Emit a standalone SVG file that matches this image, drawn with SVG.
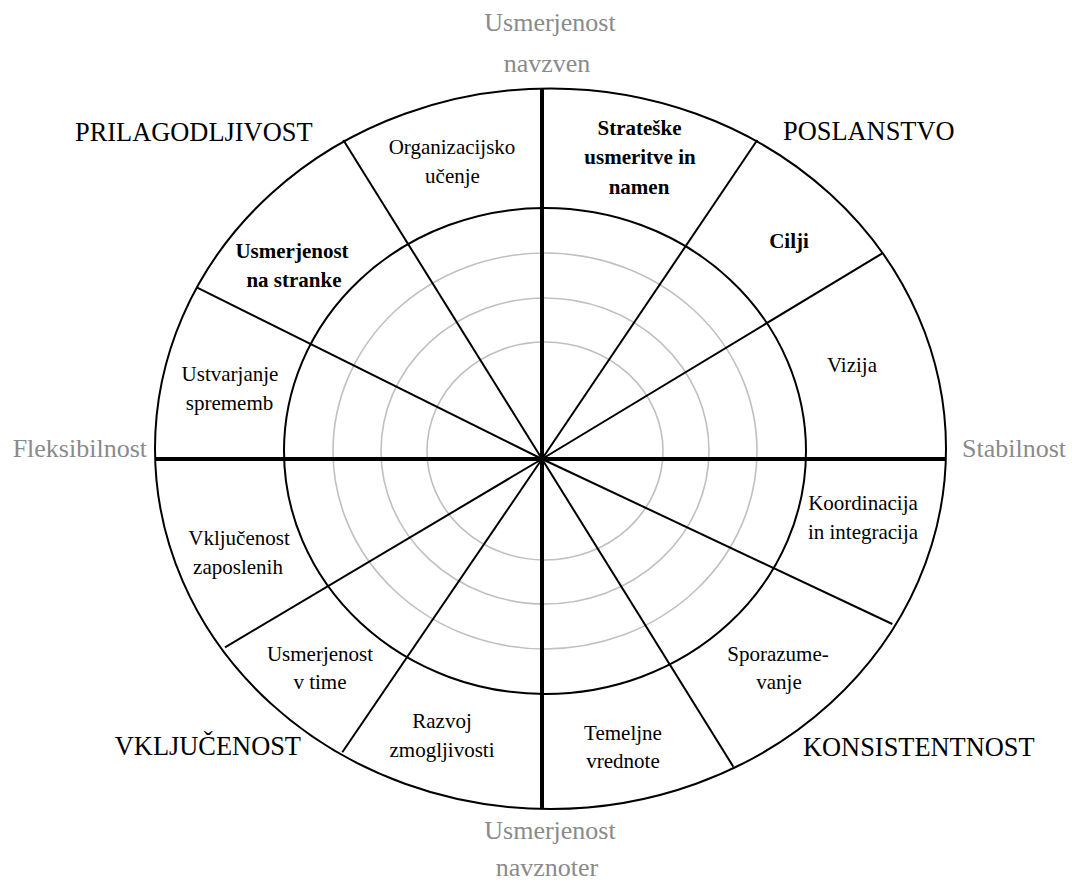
<svg xmlns="http://www.w3.org/2000/svg" width="1072" height="883" viewBox="0 0 1072 883">
  <style>
    text { font-family: "Liberation Serif", "Times New Roman", serif; fill: #000; }
    .cell { font-size: 21px; text-anchor: middle; }
    .bold { font-weight: bold; }
    .trait { font-size: 26.4px; }
    .axis { font-size: 26px; fill: #8a8a8a; }
    .mid { text-anchor: middle; }
    .ring { fill: none; stroke: #c0c0c0; stroke-width: 1.6; }
    .rim { fill: none; stroke: #000; stroke-width: 2; }
    .spoke { stroke: #000; stroke-width: 2; }
    .axisline { stroke: #000; stroke-width: 4; }
  </style>

  <rect width="1072" height="883" fill="#fff"/>

  <!-- scale rings -->
  <g id="rings">
    <ellipse class="ring" cx="545" cy="451" rx="118" ry="109"/>
    <ellipse class="ring" cx="545" cy="451" rx="164" ry="153"/>
    <ellipse class="ring" cx="545" cy="451" rx="212" ry="198"/>
    <ellipse class="rim" cx="545" cy="451" rx="261" ry="243"/>
    <ellipse class="rim" cx="550.5" cy="448.75" rx="395.5" ry="360.25"/>
  </g>

  <!-- spokes and main axes -->
  <g id="connectors">
    <line class="spoke" x1="542" y1="459" x2="343.3" y2="140"/>
    <line class="spoke" x1="542" y1="459" x2="196.7" y2="287.3"/>
    <line class="spoke" x1="542" y1="459" x2="757.3" y2="140"/>
    <line class="spoke" x1="542" y1="459" x2="882.3" y2="253.3"/>
    <line class="spoke" x1="542" y1="459" x2="225" y2="647.3"/>
    <line class="spoke" x1="542" y1="459" x2="342.3" y2="752.3"/>
    <line class="spoke" x1="542" y1="459" x2="892.3" y2="624"/>
    <line class="spoke" x1="542" y1="459" x2="733.3" y2="766.7"/>
    <line class="axisline" x1="542" y1="88.6" x2="542" y2="809"/>
    <line class="axisline" x1="155.2" y1="459" x2="945.8" y2="459"/>
  </g>

  <!-- axis labels -->
  <g id="axis-top"><text class="axis mid" x="550" y="31">Usmerjenost</text><text class="axis mid" x="547" y="72">navzven</text></g>
  <g id="axis-bottom"><text class="axis mid" x="550" y="839">Usmerjenost</text><text class="axis mid" x="547" y="876">navznoter</text></g>
  <g id="axis-left"><text class="axis" x="147" y="457" text-anchor="end">Fleksibilnost</text></g>
  <g id="axis-right"><text class="axis" x="962" y="457">Stabilnost</text></g>

  <!-- trait labels -->
  <g id="trait-prilagodljivost"><text class="trait" x="75" y="141">PRILAGODLJIVOST</text></g>
  <g id="trait-poslanstvo"><text class="trait" x="783" y="140">POSLANSTVO</text></g>
  <g id="trait-vkljucenost"><text class="trait" x="301" y="755" text-anchor="end">VKLJUČENOST</text></g>
  <g id="trait-konsistentnost"><text class="trait" x="803" y="756">KONSISTENTNOST</text></g>

  <!-- sector labels -->
  <g id="organizacijsko-ucenje"><text class="cell" x="452" y="154">Organizacijsko</text><text class="cell" x="452.5" y="183">učenje</text></g>
  <g id="usmerjenost-na-stranke"><text class="cell bold" x="292" y="258">Usmerjenost</text><text class="cell bold" x="294" y="287">na stranke</text></g>
  <g id="ustvarjanje-sprememb"><text class="cell" x="230" y="381">Ustvarjanje</text><text class="cell" x="229.5" y="410">sprememb</text></g>
  <g id="strateske-usmeritve"><text class="cell bold" x="639.5" y="135">Strateške</text><text class="cell bold" x="640" y="164">usmeritve in</text><text class="cell bold" x="639" y="194">namen</text></g>
  <g id="cilji"><text class="cell bold" x="789" y="248">Cilji</text></g>
  <g id="vizija"><text class="cell" x="852" y="372">Vizija</text></g>
  <g id="koordinacija"><text class="cell" x="863" y="510">Koordinacija</text><text class="cell" x="863" y="539">in integracija</text></g>
  <g id="sporazumevanje"><text class="cell" x="778" y="661">Sporazume-</text><text class="cell" x="779" y="689">vanje</text></g>
  <g id="temeljne-vrednote"><text class="cell" x="623" y="740">Temeljne</text><text class="cell" x="623" y="768">vrednote</text></g>
  <g id="razvoj-zmogljivosti"><text class="cell" x="442" y="728">Razvoj</text><text class="cell" x="442" y="757">zmogljivosti</text></g>
  <g id="usmerjenost-v-time"><text class="cell" x="320" y="661">Usmerjenost</text><text class="cell" x="320" y="689">v time</text></g>
  <g id="vkljucenost-zaposlenih"><text class="cell" x="239" y="545">Vključenost</text><text class="cell" x="238" y="574">zaposlenih</text></g>
</svg>
